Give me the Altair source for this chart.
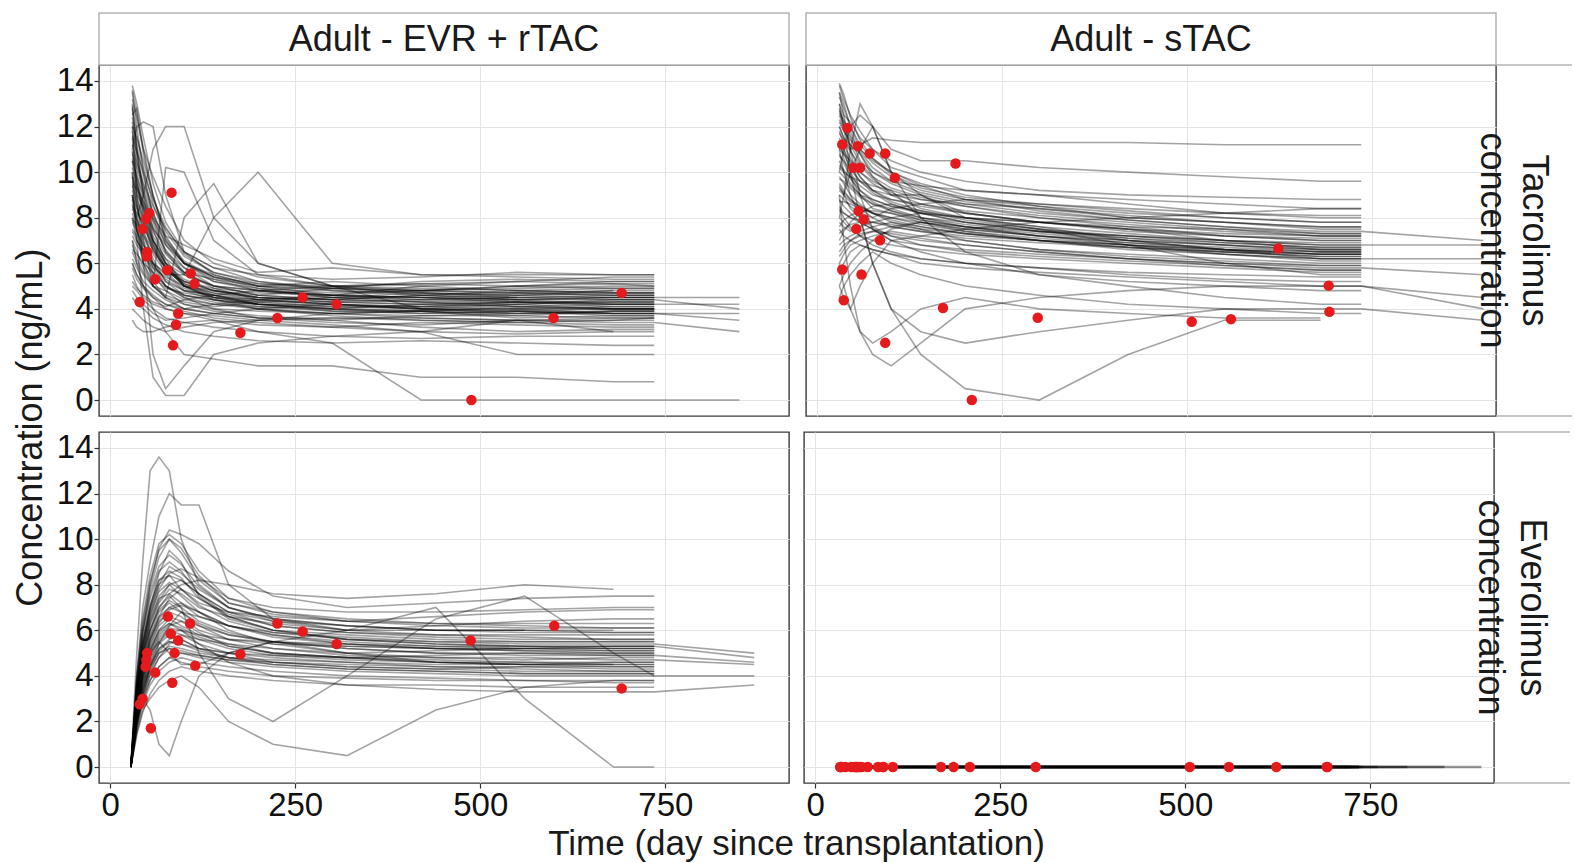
import altair as alt
import pandas as pd

FONT = "Liberation Sans"
W, H = 690, 351
RS = 77  # right strip width

# ---------------- data ----------------
# Tacrolimus, Adult EVR + rTAC  (time grid in days, one row of values per patient)
TL_GRID = [30, 36, 45, 58, 75, 100, 140, 200, 300, 420, 550, 680, 735, 850]
TL_ROWS = [
    [13.5, 12.0, 10.0, 8.0, 6.5, 5.5, 5.0, 4.8, 4.6, 4.5, 4.4, 4.5, 4.5, None],
    [12.8, 11.0, 9.2, 7.5, 6.0, 5.2, 4.8, 4.5, 4.3, 4.2, 4.1, 4.0, 4.0, None],
    [12.0, 11.5, 10.5, 9.0, 7.0, 6.0, 5.5, 5.0, 5.2, 5.0, 4.8, 4.9, 4.9, None],
    [11.5, 10.0, 8.5, 7.0, 6.2, 5.0, 4.5, 4.2, 4.0, 3.8, 3.9, 3.7, 3.7, None],
    [11.0, 9.5, 8.0, 6.8, 5.5, 4.8, 4.6, 4.4, 4.5, 4.7, 4.6, 4.5, 4.5, 4.5],
    [10.5, 9.8, 9.0, 7.8, 6.5, 5.8, 5.2, 4.9, 4.7, 4.8, 5.0, 5.1, 5.0, None],
    [10.0, 8.5, 7.5, 6.0, 5.0, 4.5, 4.2, 4.0, 3.8, 3.6, 3.5, 3.5, 3.6, None],
    [9.5, 8.8, 8.0, 7.0, 6.0, 5.5, 5.0, 4.6, 4.4, 4.3, 4.2, 4.4, 4.4, None],
    [9.0, 8.0, 7.0, 5.8, 5.0, 4.5, 4.0, 3.6, 3.4, 3.3, 3.5, 3.4, 3.4, 3.0],
    [8.5, 8.2, 7.8, 6.5, 5.8, 5.0, 4.8, 4.6, 4.9, 5.2, 5.3, 5.2, 5.2, None],
    [8.0, 7.0, 6.5, 5.5, 4.8, 4.2, 3.9, 3.7, 3.5, 3.7, 3.8, 3.9, 3.9, None],
    [7.5, 7.2, 6.0, 5.2, 4.5, 4.0, 3.8, 3.6, 3.5, 3.2, 3.0, 3.1, 3.1, None],
    [7.0, 6.5, 5.8, 5.0, 4.8, 4.4, 4.2, 4.1, 4.0, 4.2, 4.3, 4.3, 4.3, None],
    [6.5, 6.0, 5.5, 5.0, 4.6, 4.3, 4.1, 4.3, 4.5, 4.4, 4.5, 4.6, 4.6, None],
    [6.0, 5.5, 5.0, 4.6, 4.2, 3.9, 3.6, 3.4, 3.2, 3.0, 2.9, 3.0, 3.0, None],
    [5.5, 5.0, 4.5, 4.2, 4.0, 3.8, 3.7, 3.5, 3.8, 3.9, 3.8, 3.8, 3.8, None],
    [5.0, 4.8, 4.4, 4.0, 3.6, 3.4, 3.2, 3.0, 2.8, 2.7, 2.8, 2.8, 2.8, None],
    [4.5, 4.2, 4.0, 3.6, 3.3, 3.0, 2.8, 2.6, 2.5, 2.6, 2.5, 2.4, 2.4, None],
    [13.8, 13.0, 11.5, 9.5, 7.8, 6.5, 5.8, 5.5, 5.3, 5.4, 5.6, 5.5, 5.5, None],
    [12.5, 12.8, 11.0, 9.8, 8.5, 7.0, 6.0, 5.4, 5.0, 4.9, 4.8, 4.7, 4.7, None],
    [11.8, 10.5, 9.5, 8.5, 7.5, 6.5, 5.8, 5.2, 4.8, 4.6, 4.4, 4.2, 4.2, 4.2],
    [10.8, 10.2, 9.2, 8.0, 7.2, 6.8, 6.2, 5.6, 5.8, 5.5, 5.4, 5.3, 5.3, None],
    [9.8, 9.0, 8.5, 7.5, 6.8, 6.0, 5.4, 5.0, 4.6, 4.5, 4.3, 4.1, 4.1, None],
    [9.2, 8.5, 7.2, 6.2, 5.2, 4.6, 4.4, 4.2, 4.1, 4.0, 3.9, 3.8, 3.8, 3.5],
    [8.8, 7.8, 6.8, 6.0, 5.6, 5.2, 4.9, 4.7, 4.6, 4.5, 4.6, 4.7, 4.7, None],
    [8.2, 7.5, 6.2, 5.4, 4.9, 4.7, 4.5, 4.4, 4.2, 4.1, 4.0, 4.0, 4.0, None],
    [7.8, 7.4, 6.8, 6.0, 5.2, 4.8, 4.6, 4.2, 3.9, 3.9, 3.6, 3.7, 3.7, None],
    [7.2, 6.8, 6.4, 5.8, 5.4, 5.0, 4.7, 4.5, 4.4, 4.6, 4.7, 4.8, 4.8, None],
    [6.8, 6.2, 5.6, 5.0, 4.5, 4.2, 4.0, 3.9, 3.8, 3.9, 4.1, 4.0, 4.0, None],
    [6.2, 5.8, 5.2, 4.8, 4.4, 4.0, 3.8, 3.6, 3.6, 3.5, 3.4, 3.3, 3.3, None],
    [5.8, 5.3, 4.9, 4.5, 4.2, 4.0, 4.2, 4.4, 4.6, 4.8, 5.0, 4.9, 4.9, None],
    [5.2, 4.9, 4.6, 4.3, 4.1, 4.4, 4.6, 4.8, 5.0, 5.1, 5.0, 5.2, 5.2, None],
    [4.8, 4.5, 4.2, 3.8, 3.5, 3.6, 3.8, 4.0, 4.2, 4.1, 4.3, 4.2, 4.2, None],
    [4.0, 3.8, 3.5, 3.2, 3.0, 3.2, 3.4, 3.5, 3.6, 3.6, 3.5, 3.6, 3.6, None],
    [3.5, 3.2, 3.0, 3.0, 3.2, 3.4, 3.5, 3.3, 3.2, 3.4, 3.3, 3.2, 3.2, None],
    [11.0, 12.0, 12.2, 12.0, 9.0, 6.5, 5.5, 5.0, 4.8, 4.7, 4.6, 4.8, None, None],
    [9.0, 8.0, 7.0, 5.0, 10.2, 10.0, 7.0, 5.5, 5.0, 4.8, 4.7, 4.6, 4.6, None],
    [8.0, 7.5, 6.0, 2.0, 0.5, 1.5, 3.0, 3.5, 3.3, 3.0, 2.0, 2.0, 2.0, None],
    [10.0, 7.0, 4.0, 1.0, 0.2, 0.2, 2.0, 2.5, 2.8, 3.0, 3.5, 3.0, None, None],
    [12.0, 9.0, 6.0, 5.0, 4.5, 8.0, 9.5, 6.0, 5.0, 4.0, 4.2, 4.0, 4.0, None],
    [7.0, 6.0, 5.0, 4.0, 3.0, 2.0, 1.8, 1.5, 1.5, 1.0, 1.0, 0.8, 0.8, None],
    [6.0, 5.5, 5.0, 4.5, 4.0, 3.8, 3.5, 3.0, 2.5, 0.0, 0.0, 0.0, 0.0, 0.0],
    [13.0, 11.0, 9.0, 7.0, 6.0, 5.0, 4.6, 4.2, 4.2, 4.0, 4.0, 3.8, 3.8, 3.8],
    [10.5, 9.0, 7.8, 6.6, 5.8, 5.2, 4.8, 4.5, 4.4, 4.3, 4.4, 4.4, 4.4, 4.0],
    [12.2, 10.8, 8.8, 7.2, 6.2, 5.6, 5.3, 5.0, 4.9, 4.8, 4.7, 4.6, 4.6, None],
    [9.6, 9.2, 8.4, 7.4, 6.4, 5.6, 5.0, 4.8, 4.6, 5.0, 5.2, 5.4, 5.4, None],
    [8.6, 7.6, 6.6, 5.6, 5.0, 4.6, 4.4, 4.2, 4.0, 3.9, 4.0, 4.1, 4.1, None],
    [6.6, 6.4, 6.0, 5.6, 5.0, 4.6, 4.3, 4.0, 3.8, 3.7, 3.7, 3.9, 3.9, None],
    [None, 8.0, 9.0, 11.0, 12.0, 12.0, 8.0, 6.0, 5.0, 4.6, 4.5, None, None, None],
    [9.0, 7.5, 6.5, 6.0, 5.5, 5.5, 8.0, 10.0, 6.0, 5.5, 5.5, 5.5, 5.5, None],
    [13.2, 12.4, 11.0, 9.0, 7.2, 6.0, 5.2, 4.8, 4.6, 4.4, 4.3, 4.3, 4.3, None],
    [12.4, 11.2, 9.8, 8.2, 6.8, 5.8, 5.0, 4.6, 4.4, 4.6, 4.8, 4.7, 4.7, None],
    [11.2, 10.4, 9.4, 8.2, 7.0, 6.0, 5.4, 4.9, 4.5, 4.3, 4.1, 4.2, 4.2, None],
    [10.2, 9.4, 8.6, 7.6, 6.6, 5.6, 4.9, 4.4, 4.2, 4.0, 3.8, 3.9, 3.9, None],
    [9.4, 8.6, 7.8, 6.8, 5.9, 5.1, 4.6, 4.3, 4.1, 4.1, 4.2, 4.3, 4.3, None],
    [8.4, 7.9, 7.2, 6.4, 5.6, 4.9, 4.5, 4.3, 4.3, 4.4, 4.5, 4.4, 4.4, None],
    [7.4, 7.0, 6.5, 5.9, 5.3, 4.8, 4.4, 4.1, 3.9, 3.8, 3.9, 4.0, 4.0, None],
    [12.9, 11.6, 10.2, 8.6, 7.1, 6.1, 5.4, 5.1, 5.0, 5.1, 5.2, 5.1, 5.1, None],
    [11.6, 10.9, 10.0, 8.8, 7.6, 6.4, 5.6, 5.1, 4.9, 4.7, 4.5, 4.5, 4.5, None],
    [10.6, 9.6, 8.3, 7.0, 6.0, 5.3, 4.8, 4.5, 4.3, 4.2, 4.3, 4.2, 4.2, None],
    [9.8, 9.3, 8.7, 7.9, 6.9, 6.0, 5.3, 4.8, 4.5, 4.5, 4.4, 4.5, 4.5, None],
    [8.9, 8.4, 7.6, 6.7, 5.8, 5.1, 4.7, 4.4, 4.2, 4.0, 3.9, 3.8, 3.8, None],
    [13.6, 12.6, 10.8, 8.9, 7.4, 6.3, 5.6, 5.2, 4.9, 4.8, 4.9, 5.0, 5.0, None],
    [7.9, 7.7, 7.3, 6.6, 5.8, 5.0, 4.5, 4.2, 4.0, 3.9, 3.7, 3.6, 3.6, None],
    [10.9, 9.7, 8.2, 6.9, 5.8, 5.0, 4.4, 4.0, 3.7, 3.5, 3.4, 3.5, 3.5, None],
]
TL_PT_DAY = [83, 53, 49, 44, 50, 50, 77, 61, 109, 114, 40, 92, 89, 85, 176, 226, 260, 306, 488, 599, 691]
TL_PT_VAL = [9.1, 8.2, 7.95, 7.5, 6.5, 6.3, 5.7, 5.3, 5.55, 5.1, 4.3, 3.8, 3.3, 2.4, 2.95, 3.6, 4.5, 4.2, 0.0, 3.6, 4.7]

# Tacrolimus, Adult sTAC
TR_GRID = [30, 36, 45, 58, 75, 100, 140, 200, 300, 420, 550, 680, 735, 900]
TR_ROWS = [
    [13.5, 13.0, 12.0, 11.0, 10.5, 10.0, 9.5, 9.0, 8.5, 8.0, 7.8, 7.5, 7.5, None],
    [13.0, 12.5, 12.2, 11.5, 11.0, 10.2, 9.8, 9.2, 9.0, 8.8, 8.6, 8.4, 8.4, None],
    [12.5, 12.0, 11.0, 10.0, 9.5, 9.0, 8.8, 8.5, 8.0, 7.6, 7.2, 7.0, 7.0, None],
    [12.0, 11.5, 11.2, 10.8, 10.0, 9.5, 9.0, 8.2, 7.8, 7.5, 7.0, 6.8, 6.8, 6.8],
    [11.5, 11.0, 10.0, 9.2, 8.8, 8.5, 8.2, 8.0, 7.6, 7.3, 7.0, 6.6, 6.6, None],
    [11.0, 10.8, 10.5, 10.0, 9.6, 9.2, 8.8, 8.6, 8.4, 8.0, 7.8, 7.6, 7.6, None],
    [10.5, 10.0, 9.5, 9.0, 8.6, 8.4, 8.0, 7.8, 7.4, 7.0, 6.6, 6.2, 6.2, None],
    [10.0, 9.8, 9.4, 9.0, 8.8, 8.5, 8.3, 8.0, 7.8, 7.6, 7.5, 7.3, 7.3, None],
    [9.5, 9.2, 8.8, 8.4, 8.0, 7.6, 7.4, 7.2, 7.0, 6.8, 6.5, 6.3, 6.3, None],
    [9.0, 8.8, 8.5, 8.2, 8.0, 8.4, 8.6, 8.8, 8.5, 8.2, 8.0, 7.8, 7.8, None],
    [8.5, 8.2, 8.0, 7.8, 7.5, 7.2, 7.0, 6.8, 6.5, 6.2, 6.0, 5.8, 5.8, 5.5],
    [8.0, 7.8, 7.5, 7.2, 7.4, 7.6, 7.8, 7.5, 7.2, 7.0, 6.8, 6.6, 6.6, None],
    [7.5, 7.2, 7.0, 6.8, 6.6, 6.4, 6.2, 6.0, 5.8, 5.6, 5.5, 5.4, 5.4, None],
    [7.0, 7.4, 7.8, 8.2, 8.5, 8.6, 8.2, 7.8, 7.4, 7.2, 7.0, 6.9, 6.9, None],
    [6.5, 6.8, 7.0, 7.2, 7.0, 6.8, 6.6, 6.4, 6.2, 6.0, 5.8, 5.6, 5.6, None],
    [6.0, 6.4, 6.8, 7.0, 7.2, 7.4, 7.2, 7.0, 6.6, 6.4, 6.2, 6.0, 6.0, None],
    [5.5, 6.0, 6.5, 6.8, 6.6, 6.4, 6.0, 5.8, 5.6, 5.4, 5.2, 5.0, 5.0, 4.5],
    [5.0, 5.5, 6.0, 6.5, 7.0, 7.5, 7.8, 7.6, 7.2, 6.8, 6.4, 6.2, 6.2, None],
    [13.8, 13.2, 12.5, 11.8, 11.0, 10.5, 10.0, 9.6, 9.2, 9.0, 8.9, 8.8, 8.8, None],
    [12.8, 12.0, 11.5, 10.5, 10.0, 9.6, 9.4, 9.2, 9.0, 8.6, 8.2, 8.0, 8.0, None],
    [11.8, 11.2, 10.6, 9.8, 9.2, 8.8, 8.5, 8.2, 7.8, 7.4, 7.2, 7.1, 7.1, None],
    [10.8, 10.4, 9.8, 9.4, 9.0, 8.8, 8.6, 8.3, 8.0, 7.7, 7.4, 7.2, 7.2, None],
    [9.8, 9.5, 9.0, 8.6, 8.2, 8.0, 7.8, 7.5, 7.2, 6.9, 6.7, 6.5, 6.5, None],
    [9.2, 9.0, 8.7, 8.5, 8.2, 7.8, 7.5, 7.0, 6.6, 6.3, 6.1, 5.9, 5.9, None],
    [8.8, 8.5, 8.2, 7.8, 7.5, 7.0, 6.8, 6.5, 6.3, 6.1, 5.9, 5.7, 5.7, None],
    [12.2, 11.8, 11.4, 11.0, 10.4, 9.8, 9.2, 8.8, 8.6, 8.4, 8.2, 8.1, 8.1, None],
    [11.2, 10.8, 10.2, 9.6, 9.2, 9.0, 9.0, 8.6, 8.2, 7.9, 7.6, 7.4, 7.4, 7.0],
    [10.2, 10.0, 9.8, 9.6, 9.4, 9.2, 8.0, 7.6, 7.4, 7.2, 7.0, 6.8, 6.8, None],
    [7.8, 7.6, 7.4, 7.6, 7.8, 8.0, 8.2, 8.0, 7.8, 7.5, 7.3, 7.2, 7.2, None],
    [6.8, 7.0, 7.2, 7.4, 7.6, 7.8, 7.6, 7.3, 7.0, 6.7, 6.5, 6.4, 6.4, None],
    [13.0, 12.0, 10.0, 8.0, 6.0, 4.0, 3.0, 2.5, 3.0, 3.5, 4.0, 4.0, 4.0, 3.5],
    [9.0, 7.0, 5.0, 3.0, 2.5, 3.0, 4.0, 4.5, 4.0, 3.8, 3.6, 3.6, None, None],
    [11.0, 10.0, 9.0, 8.0, 6.0, 4.0, 2.0, 0.5, 0.0, 2.0, 3.5, 3.5, None, None],
    [10.0, 11.0, 12.0, 12.5, 12.0, 11.0, 10.5, 10.5, 10.2, 10.0, 9.8, 9.6, 9.6, None],
    [12.0, 11.5, 11.0, 11.2, 11.5, 11.4, 11.3, 11.3, 11.3, 11.3, 11.2, 11.2, 11.2, None],
    [8.0, 9.0, 10.0, 11.0, 12.0, 10.0, 8.0, 6.5, 5.5, 5.0, 4.5, 4.2, 4.2, None],
    [6.0, 5.0, 4.0, 3.0, 2.0, 1.5, 2.5, 4.0, 4.5, 4.8, 5.0, 5.0, 5.0, 4.0],
    [5.0, 4.5, 4.0, 5.0, 6.0, 7.0, 6.5, 6.0, 5.5, 5.2, 5.0, 4.8, 4.8, None],
    [4.5, 5.0, 5.5, 6.0, 6.5, 6.0, 5.5, 5.0, 4.6, 4.2, 4.0, 3.8, 3.8, None],
    [13.5, 12.5, 11.0, 9.0, 7.5, 7.0, 7.2, 7.5, 7.8, 8.0, 8.2, 8.4, 8.4, None],
    [None, 9.0, 11.0, 13.0, 12.0, 10.0, 9.0, 8.0, 7.5, 6.8, 6.0, 5.5, 5.5, None],
    [12.6, 12.2, 11.8, 10.8, 9.8, 9.0, 8.4, 8.0, 7.6, 7.0, 6.6, 6.4, 6.4, None],
    [11.4, 10.6, 9.8, 9.0, 8.4, 8.2, 7.8, 7.4, 7.0, 6.6, 6.4, 6.2, 6.2, 6.2],
    [9.4, 9.0, 8.4, 8.0, 7.6, 7.2, 6.8, 6.6, 6.4, 6.2, 6.0, 5.9, 5.9, None],
    [8.4, 8.0, 7.6, 7.2, 6.8, 6.5, 6.2, 6.0, 5.8, 5.5, 5.3, 5.2, 5.2, None],
    [13.3, 12.8, 12.0, 11.2, 10.6, 10.0, 9.4, 8.8, 8.3, 7.9, 7.6, 7.3, 7.3, None],
    [12.3, 11.9, 11.2, 10.4, 9.8, 9.3, 8.9, 8.5, 8.1, 7.8, 7.5, 7.2, 7.2, None],
    [11.3, 11.0, 10.4, 9.8, 9.2, 8.7, 8.3, 7.9, 7.5, 7.2, 6.9, 6.7, 6.7, None],
    [10.3, 10.1, 9.7, 9.2, 8.7, 8.3, 7.9, 7.6, 7.3, 7.0, 6.8, 6.6, 6.6, None],
    [9.3, 9.1, 8.8, 8.5, 8.2, 7.9, 7.6, 7.3, 7.0, 6.8, 6.6, 6.5, 6.5, None],
    [8.3, 8.2, 8.0, 7.9, 7.8, 7.6, 7.4, 7.1, 6.9, 6.7, 6.4, 6.1, 6.1, None],
    [7.3, 7.5, 7.7, 7.8, 7.8, 7.7, 7.5, 7.3, 7.0, 6.7, 6.5, 6.3, 6.3, None],
    [12.7, 12.3, 11.6, 10.9, 10.2, 9.6, 9.1, 8.7, 8.4, 8.1, 7.8, 7.6, 7.6, None],
    [11.7, 11.4, 10.9, 10.3, 9.7, 9.1, 8.6, 8.2, 7.8, 7.5, 7.2, 7.0, 7.0, None],
    [10.7, 10.5, 10.1, 9.6, 9.1, 8.6, 8.2, 7.8, 7.5, 7.1, 6.8, 6.5, 6.5, None],
    [9.7, 9.6, 9.3, 8.9, 8.6, 8.3, 8.0, 7.7, 7.4, 7.1, 6.9, 6.7, 6.7, None],
    [8.7, 8.7, 8.6, 8.4, 8.2, 8.0, 7.7, 7.4, 7.1, 6.8, 6.6, 6.4, 6.4, None],
    [13.9, 13.4, 12.4, 11.4, 10.6, 9.9, 9.3, 8.9, 8.6, 8.3, 8.0, 7.8, 7.8, None],
    [7.6, 7.9, 8.1, 8.3, 8.3, 8.2, 7.9, 7.6, 7.2, 6.9, 6.6, 6.4, 6.4, None],
    [6.3, 6.6, 7.0, 7.3, 7.4, 7.3, 7.1, 6.8, 6.5, 6.2, 5.9, 5.7, 5.7, None],
]
TR_PT_DAY = [41, 34, 55, 71, 92, 49, 58, 105, 187, 56, 63, 53, 85, 34, 60, 36, 170, 298, 92, 209, 623, 691, 692, 506, 559]
TR_PT_VAL = [11.94, 11.21, 11.14, 10.82, 10.82, 10.19, 10.19, 9.75, 10.38, 8.29, 7.92, 7.51, 7.01, 5.73, 5.51, 4.38, 4.04, 3.61, 2.51, 0.0, 6.65, 5.02, 3.87, 3.43, 3.55]

# Everolimus, Adult EVR + rTAC
BL_GRID = [28, 36, 44, 54, 66, 80, 96, 120, 160, 220, 320, 440, 560, 680, 735, 870]
BL_ROWS = [
    [0, 3.5, 5.5, 7.0, 8.5, 9.5, 9.0, 7.5, 6.5, 6.0, 5.8, 5.6, 5.5, 5.5, 5.5, None],
    [0, 3.0, 5.0, 6.5, 7.5, 8.0, 7.5, 6.8, 6.2, 5.8, 5.5, 5.3, 5.2, 5.2, 5.2, None],
    [0, 2.8, 4.5, 5.8, 6.8, 7.2, 6.8, 6.2, 5.8, 5.5, 5.2, 5.0, 5.0, 4.9, 4.9, 4.6],
    [0, 2.5, 4.0, 5.2, 6.0, 6.5, 6.2, 5.8, 5.4, 5.0, 4.8, 4.7, 4.6, 4.5, 4.5, None],
    [0, 2.2, 3.6, 4.6, 5.4, 5.8, 5.6, 5.2, 5.0, 4.8, 4.6, 4.4, 4.3, 4.2, 4.2, None],
    [0, 2.0, 3.2, 4.2, 5.0, 5.2, 5.0, 4.8, 4.6, 4.4, 4.2, 4.1, 4.0, 4.0, 4.0, None],
    [0, 1.8, 3.0, 3.8, 4.4, 4.8, 4.6, 4.4, 4.2, 4.0, 3.9, 3.8, 3.8, 3.7, 3.7, None],
    [0, 3.8, 6.0, 7.8, 9.2, 10.0, 9.6, 8.4, 7.2, 6.8, 6.5, 6.3, 6.2, 6.1, 6.1, None],
    [0, 3.2, 5.2, 6.8, 8.0, 8.8, 8.5, 7.8, 7.0, 6.4, 6.0, 5.8, 5.7, 5.6, 5.6, None],
    [0, 2.6, 4.2, 5.5, 6.5, 7.0, 7.2, 6.8, 6.0, 5.4, 5.0, 4.8, 4.8, 4.7, 4.7, 4.5],
    [0, 2.4, 3.8, 5.0, 5.8, 6.2, 6.4, 6.2, 5.6, 5.2, 4.9, 4.8, 4.7, 4.8, 4.8, None],
    [0, 2.9, 4.8, 6.2, 7.2, 7.8, 7.6, 7.0, 6.6, 6.3, 6.0, 6.2, 6.4, 6.5, 6.5, None],
    [0, 2.1, 3.4, 4.4, 5.2, 5.6, 5.8, 5.6, 5.4, 5.2, 5.0, 5.1, 5.2, 5.3, 5.3, None],
    [0, 1.6, 2.8, 3.6, 4.2, 4.6, 4.8, 4.6, 4.4, 4.2, 4.0, 3.9, 3.8, 3.8, 3.8, None],
    [0, 3.6, 5.8, 7.4, 8.6, 9.0, 8.6, 7.6, 6.8, 6.4, 6.2, 6.0, 6.0, 5.9, 5.9, None],
    [0, 2.7, 4.4, 5.6, 6.4, 6.8, 6.6, 6.0, 5.6, 5.4, 5.3, 5.2, 5.2, 5.1, 5.1, None],
    [0, 2.3, 3.7, 4.8, 5.6, 6.0, 5.8, 5.4, 5.0, 4.6, 4.4, 4.3, 4.4, 4.4, 4.4, None],
    [0, 1.9, 3.1, 4.0, 4.8, 5.4, 5.6, 5.2, 4.8, 4.5, 4.3, 4.2, 4.1, 4.1, 4.1, None],
    [0, 3.4, 5.4, 7.0, 8.2, 8.4, 7.8, 7.2, 6.8, 6.6, 6.4, 6.6, 6.8, 6.9, 6.9, None],
    [0, 3.1, 5.0, 6.4, 7.4, 7.6, 7.2, 6.6, 6.2, 5.9, 5.7, 5.5, 5.4, 5.4, 5.4, 5.0],
    [0, 2.5, 4.1, 5.3, 6.2, 6.6, 6.4, 5.9, 5.3, 5.0, 4.8, 4.6, 4.5, 4.4, 4.4, None],
    [0, 2.2, 3.5, 4.5, 5.2, 5.5, 5.4, 5.2, 5.0, 4.9, 4.8, 4.9, 5.0, 5.0, 5.0, None],
    [0, 1.7, 2.9, 3.8, 4.4, 4.8, 5.0, 4.9, 4.7, 4.6, 4.5, 4.4, 4.4, 4.3, 4.3, None],
    [0, 1.4, 2.4, 3.2, 3.8, 4.2, 4.4, 4.2, 4.0, 3.8, 3.6, 3.6, 3.5, 3.5, 3.5, None],
    [0, 4.0, 6.5, 8.4, 9.8, 10.2, 9.8, 8.6, 7.4, 7.0, 6.8, 6.8, 6.9, 7.0, 7.0, None],
    [0, 3.0, 4.9, 6.3, 7.3, 8.0, 8.2, 7.6, 6.8, 6.2, 5.9, 5.8, 5.8, 5.8, 5.8, None],
    [0, 2.0, 3.3, 4.3, 5.0, 5.3, 5.2, 5.0, 4.8, 4.7, 4.6, 4.5, 4.5, 4.6, 4.6, None],
    [0, 2.6, 4.3, 5.6, 6.6, 7.4, 7.8, 7.4, 6.6, 6.0, 5.6, 5.4, 5.3, 5.2, 5.2, None],
    [0, 5.0, 9.0, 13.0, 13.6, 13.0, 10.0, 8.0, 7.0, 6.5, 6.2, 6.0, 6.0, None, None, None],
    [0, 4.0, 7.0, 9.0, 11.0, 12.0, 11.5, 11.5, 8.0, 6.5, 6.0, 6.0, 6.0, 6.0, None, None],
    [0, 2.0, 3.0, 2.5, 1.0, 0.5, 2.0, 4.0, 5.0, 5.5, 5.0, 4.6, 4.5, 4.5, None, None],
    [0, 2.5, 4.0, 5.0, 5.5, 5.0, 4.5, 4.5, 5.0, 5.5, 6.0, 7.0, 3.0, 0.0, 0.0, None],
    [0, 3.0, 5.0, 6.0, 7.0, 7.5, 7.0, 5.0, 3.0, 2.0, 4.0, 6.5, 7.5, 5.0, 4.0, 4.0],
    [0, 1.5, 2.5, 3.0, 3.5, 3.8, 4.0, 3.5, 2.0, 1.0, 0.5, 2.5, 3.5, 3.8, 3.8, None],
    [0, 3.5, 6.0, 8.0, 9.6, 10.4, 10.2, 9.8, 8.6, 7.5, 7.0, 7.2, 7.4, 7.5, 7.5, None],
    [0, 2.8, 4.6, 6.0, 7.0, 7.6, 8.0, 8.2, 8.0, 7.6, 7.4, 7.6, 8.0, 7.8, None, None],
    [0, 2.4, 3.9, 5.1, 6.0, 6.3, 6.0, 5.4, 4.6, 4.0, 3.6, 3.4, 3.3, 3.3, 3.3, 3.6],
    [0, 3.3, 5.3, 6.9, 8.0, 8.4, 8.2, 7.6, 6.6, 6.0, 5.6, 5.5, 5.5, 5.5, 5.5, None],
    [0, 2.2, 3.6, 4.7, 5.5, 5.9, 6.0, 5.8, 5.6, 5.5, 5.4, 5.3, 5.3, 5.3, 5.3, 4.8],
    [0, 1.8, 3.2, 4.4, 5.4, 6.2, 6.8, 6.6, 6.2, 5.8, 5.4, 5.2, 5.1, 5.0, 5.0, None],
    [0, 3.7, 5.9, 7.6, 8.8, 9.3, 8.9, 7.9, 7.0, 6.5, 6.2, 6.0, 5.9, 5.9, 5.9, None],
    [0, 3.3, 5.3, 6.7, 7.7, 8.1, 7.8, 7.1, 6.4, 5.9, 5.6, 5.4, 5.3, 5.3, 5.3, None],
    [0, 2.9, 4.7, 6.0, 6.9, 7.3, 7.0, 6.4, 5.9, 5.5, 5.2, 5.0, 4.9, 4.9, 4.9, None],
    [0, 2.5, 4.0, 5.1, 5.9, 6.3, 6.1, 5.7, 5.3, 5.0, 4.8, 4.6, 4.5, 4.5, 4.5, None],
    [0, 2.1, 3.4, 4.4, 5.1, 5.5, 5.4, 5.1, 4.8, 4.6, 4.4, 4.3, 4.2, 4.2, 4.2, None],
    [0, 3.9, 6.3, 8.1, 9.5, 10.0, 9.4, 8.2, 7.2, 6.7, 6.4, 6.3, 6.3, 6.3, 6.3, None],
    [0, 3.4, 5.5, 7.1, 8.2, 8.6, 8.3, 7.4, 6.7, 6.2, 5.9, 5.7, 5.6, 5.6, 5.6, None],
    [0, 2.7, 4.4, 5.7, 6.6, 7.0, 6.8, 6.3, 5.8, 5.5, 5.3, 5.2, 5.1, 5.1, 5.1, None],
    [0, 2.3, 3.8, 4.9, 5.7, 6.1, 6.0, 5.6, 5.2, 4.9, 4.7, 4.6, 4.6, 4.6, 4.6, None],
    [0, 1.9, 3.1, 4.1, 4.8, 5.2, 5.1, 4.9, 4.7, 4.5, 4.3, 4.2, 4.1, 4.1, 4.1, None],
    [0, 3.1, 5.1, 6.6, 7.8, 8.5, 8.7, 8.3, 7.4, 6.8, 6.4, 6.2, 6.1, 6.1, 6.1, None],
    [0, 2.6, 4.2, 5.4, 6.3, 6.9, 7.1, 6.8, 6.2, 5.7, 5.4, 5.2, 5.2, 5.2, 5.2, None],
]
BL_PT_DAY = [78, 108, 82, 92, 87, 50, 49, 48, 61, 115, 84, 176, 226, 260, 306, 44, 40, 55, 487, 600, 691]
BL_PT_VAL = [6.6, 6.3, 5.85, 5.55, 5.0, 5.0, 4.7, 4.4, 4.15, 4.45, 3.7, 4.95, 6.3, 5.95, 5.4, 3.0, 2.75, 1.7, 5.55, 6.2, 3.45]

# Everolimus, Adult sTAC (no everolimus: all zero)
BR_START_DAY = [30, 32, 34, 30, 36, 31, 33, 30, 35, 30, 32, 34]
BR_END_DAY = [735, 735, 730, 725, 740, 760, 800, 850, 900, 735, 720, 735]
BR_PT_DAY = TR_PT_DAY
BR_PT_VAL = [0.0] * len(TR_PT_DAY)

X_TICKS = [0, 250, 500, 750]
Y_TICKS = [0, 2, 4, 6, 8, 10, 12, 14]


def lines_df(grid, rows):
    recs = []
    for i, row in enumerate(rows):
        for t, v in zip(grid, row):
            if v is not None:
                recs.append({"id": i, "day": t, "conc": v})
    return pd.DataFrame(recs)


def zero_df(starts, ends):
    recs = []
    for i, (s, e) in enumerate(zip(starts, ends)):
        recs.append({"id": i, "day": s, "conc": 0.0})
        recs.append({"id": i, "day": e, "conc": 0.0})
    return pd.DataFrame(recs)


def points_df(days, vals):
    return pd.DataFrame({"day": days, "conc": vals})


STRIP_STROKE = "#b3b3b3"
TXT = "#1a1a1a"


def panel(ldf, pdf, xlabels, ylabels, top_label=None, right_label=None, sw=1.6, op=0.36):
    x = alt.X("day:Q", scale=alt.Scale(domain=[-15, 917], nice=False, zero=False),
              axis=alt.Axis(values=X_TICKS, labels=xlabels, ticks=xlabels, domain=False,
                            title=None, grid=True))
    y = alt.Y("conc:Q", scale=alt.Scale(domain=[-0.7, 14.7], nice=False, zero=False),
              axis=alt.Axis(values=Y_TICKS, labels=ylabels, ticks=ylabels, domain=False,
                            title=None, grid=True))
    lines = alt.Chart(ldf).mark_line(color="black", opacity=op, strokeWidth=sw).encode(
        x=x, y=y, detail="id:N")
    pts = alt.Chart(pdf).mark_circle(color="#e41a1c", size=110, opacity=1).encode(x=x, y=y)
    layers = [lines, pts]
    if top_label is not None:
        sd = alt.Data(values=[{"label": top_label}])
        layers.append(alt.Chart(sd).mark_rect(fill="white", stroke=STRIP_STROKE, strokeWidth=1.5).encode(
            x=alt.value(0), x2=alt.value(W), y=alt.value(-52), y2=alt.value(0)))
        layers.append(alt.Chart(sd).mark_text(font=FONT, fontSize=36, color=TXT, align="center",
                                              baseline="middle").encode(
            x=alt.value(W / 2), y=alt.value(-25), text="label:N"))
    if right_label is not None:
        rd = alt.Data(values=[{"label": right_label}])
        layers.append(alt.Chart(rd).mark_rule(stroke=STRIP_STROKE, strokeWidth=1.5).encode(
            x=alt.value(W), x2=alt.value(W + RS - 1), y=alt.value(0)))
        layers.append(alt.Chart(rd).mark_rule(stroke=STRIP_STROKE, strokeWidth=1.5).encode(
            x=alt.value(W), x2=alt.value(W + RS - 1), y=alt.value(H)))
        layers.append(alt.Chart(rd).mark_text(font=FONT, fontSize=36, color=TXT, align="center",
                                              baseline="middle", angle=90, lineBreak="\n",
                                              lineHeight=42).encode(
            x=alt.value(W + 38), y=alt.value(H / 2), text="label:N"))
    return alt.layer(*layers).properties(width=W, height=H)


tl = panel(lines_df(TL_GRID, TL_ROWS), points_df(TL_PT_DAY, TL_PT_VAL), False, True,
           top_label="Adult - EVR + rTAC")
tr = panel(lines_df(TR_GRID, TR_ROWS), points_df(TR_PT_DAY, TR_PT_VAL), False, False,
           top_label="Adult - sTAC", right_label="Tacrolimus\nconcentration")
bl = panel(lines_df(BL_GRID, BL_ROWS), points_df(BL_PT_DAY, BL_PT_VAL), True, True)
br = panel(zero_df(BR_START_DAY, BR_END_DAY), points_df(BR_PT_DAY, BR_PT_VAL), True, False,
           right_label="Everolimus\nconcentration", sw=2.5, op=0.4)

row1 = alt.hconcat(tl, tr, spacing=13)
row2 = alt.hconcat(bl, br, spacing=13, title=alt.TitleParams(
    "Time (day since transplantation)", orient="bottom", anchor="middle", font=FONT,
    fontSize=35, fontWeight="normal", color=TXT, offset=4, dx=-17))

chart = alt.vconcat(row1, row2, spacing=12, title=alt.TitleParams(
    "Concentration (ng/mL)", orient="left", anchor="middle", font=FONT, fontSize=36,
    fontWeight="normal", color=TXT, offset=6, dx=9)).properties(
    padding={"left": 12, "top": 11, "right": 0, "bottom": 0},
    background="white"
).configure_view(stroke="#3a3a3a", strokeWidth=1.4).configure_axis(
    labelFont=FONT, labelFontSize=33, labelColor="#111111", tickColor="#333333",
    tickSize=5, tickWidth=1.2, labelPadding=1, gridColor="#e4e4e4", gridWidth=1
)

chart.save("out.html", embed_options={"renderer": "svg", "actions": False})
